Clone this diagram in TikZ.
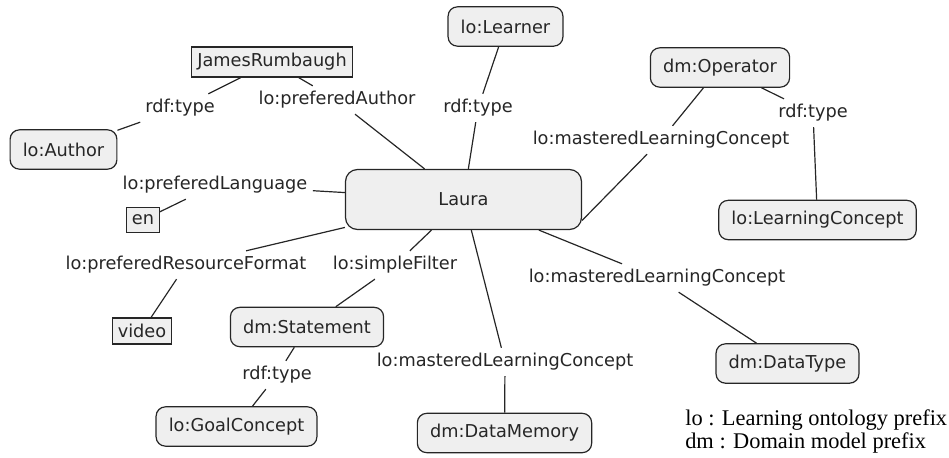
\documentclass[tikz,border=0pt]{standalone}
\usepackage{fontspec}
\setmainfont{DejaVu Sans}
\newfontfamily\legendfont{Liberation Serif}
\usepackage{xcolor}
\usepackage{tikz}
\usetikzlibrary{shapes.misc,positioning}
\definecolor{boxfill}{HTML}{EFEFEF}
\definecolor{ink}{HTML}{262626}
\tikzset{
    concept/.style={draw=ink, fill=boxfill, line width=0.9pt, rounded corners=7pt,
        inner xsep=9.5pt, minimum height=29.5pt, text=ink},
    literal/.style={draw=ink, fill=boxfill, line width=0.8pt, inner xsep=4pt,
        inner ysep=2pt, minimum height=18.5pt, text=ink},
    rel/.style={text=ink, inner sep=4pt},
    link/.style={draw=ink, line width=0.9pt}
}
\begin{document}
\begin{tikzpicture}[x=0.75pt, y=-0.75pt, font=\fontsize{13.3}{15}\selectfont]
        \useasboundingbox (0,0) rectangle (949,457);
        % resources
        \node[concept, minimum width=177pt, minimum height=45pt, rounded corners=9pt] (laura) at (463.5,199.5) {Laura};
        \node[concept] (learner) at (505.5,26.5) {lo:Learner};
        \node[literal, minimum height=22.5pt] (james) at (272,62) {JamesRumbaugh};
        \node[concept] (author) at (63.5,149.5) {lo:Author};
        \node[literal] (en) at (143,220) {en};
        \node[literal, minimum height=19.5pt] (video) at (142,331) {video};
        \node[concept] (operator) at (720,67.5) {dm:Operator};
        \node[concept] (lconcept) at (817.5,220) {lo:LearningConcept};
        \node[concept] (statement) at (307,327) {dm:Statement};
        \node[concept] (goal) at (236.5,426.5) {lo:GoalConcept};
        \node[concept] (datamem) at (504.5,433) {dm:DataMemory};
        \node[concept] (datatype) at (787.5,363.5) {dm:DataType};

        % properties
        \node[rel] (tAuthor) at (180,108) {rdf:type};
        \node[rel] (pAuthor) at (337,100) {lo:preferedAuthor};
        \node[rel] (tLearner) at (478,108) {rdf:type};
        \node[rel] (pLang) at (215,185) {lo:preferedLanguage};
        \node[rel] (mOp) at (661,140) {lo:masteredLearningConcept};
        \node[rel] (tOp) at (813,113) {rdf:type};
        \node[rel] (pFormat) at (186,265) {lo:preferedResourceFormat};
        \node[rel] (sFilter) at (395,265) {lo:simpleFilter};
        \node[rel] (tGoal) at (277,375) {rdf:type};
        \node[rel] (mMem) at (505,362) {lo:masteredLearningConcept};
        \node[rel] (mType) at (657,278) {lo:masteredLearningConcept};

        % edges
        \draw[link] (james) -- (tAuthor);
        \draw[link] (tAuthor) -- (author);
        \draw[link] (james) -- (pAuthor);
        \draw[link] (pAuthor) -- (laura);
        \draw[link] (learner) -- (tLearner);
        \draw[link] (tLearner) -- (laura);
        \draw[link] (laura) -- (pLang);
        \draw[link] (pLang) -- (en);
        \draw[link] (laura) -- (pFormat);
        \draw[link] (pFormat) -- (video);
        \draw[link] (laura) -- (sFilter);
        \draw[link] (sFilter) -- (statement);
        \draw[link] (statement) -- (tGoal);
        \draw[link] (tGoal) -- (goal);
        \draw[link] (laura) -- (mMem);
        \draw[link] (mMem) -- (datamem);
        \draw[link] (laura) -- (mType);
        \draw[link] (mType) -- (datatype);
        \draw[link] (laura.-10) -- (mOp);
        \draw[link] (mOp) -- (operator);
        \draw[link] (operator) -- (tOp);
        \draw[link] (tOp) -- (lconcept);

        % legend
        \node[anchor=west, align=left, inner sep=0pt, text=black,
              font=\legendfont\fontsize{16.8}{17.5}\selectfont] (legend) at (685,431.5)
            {lo : Learning ontology prefix\\dm : Domain model prefix};
    \end{tikzpicture}
\end{document}
